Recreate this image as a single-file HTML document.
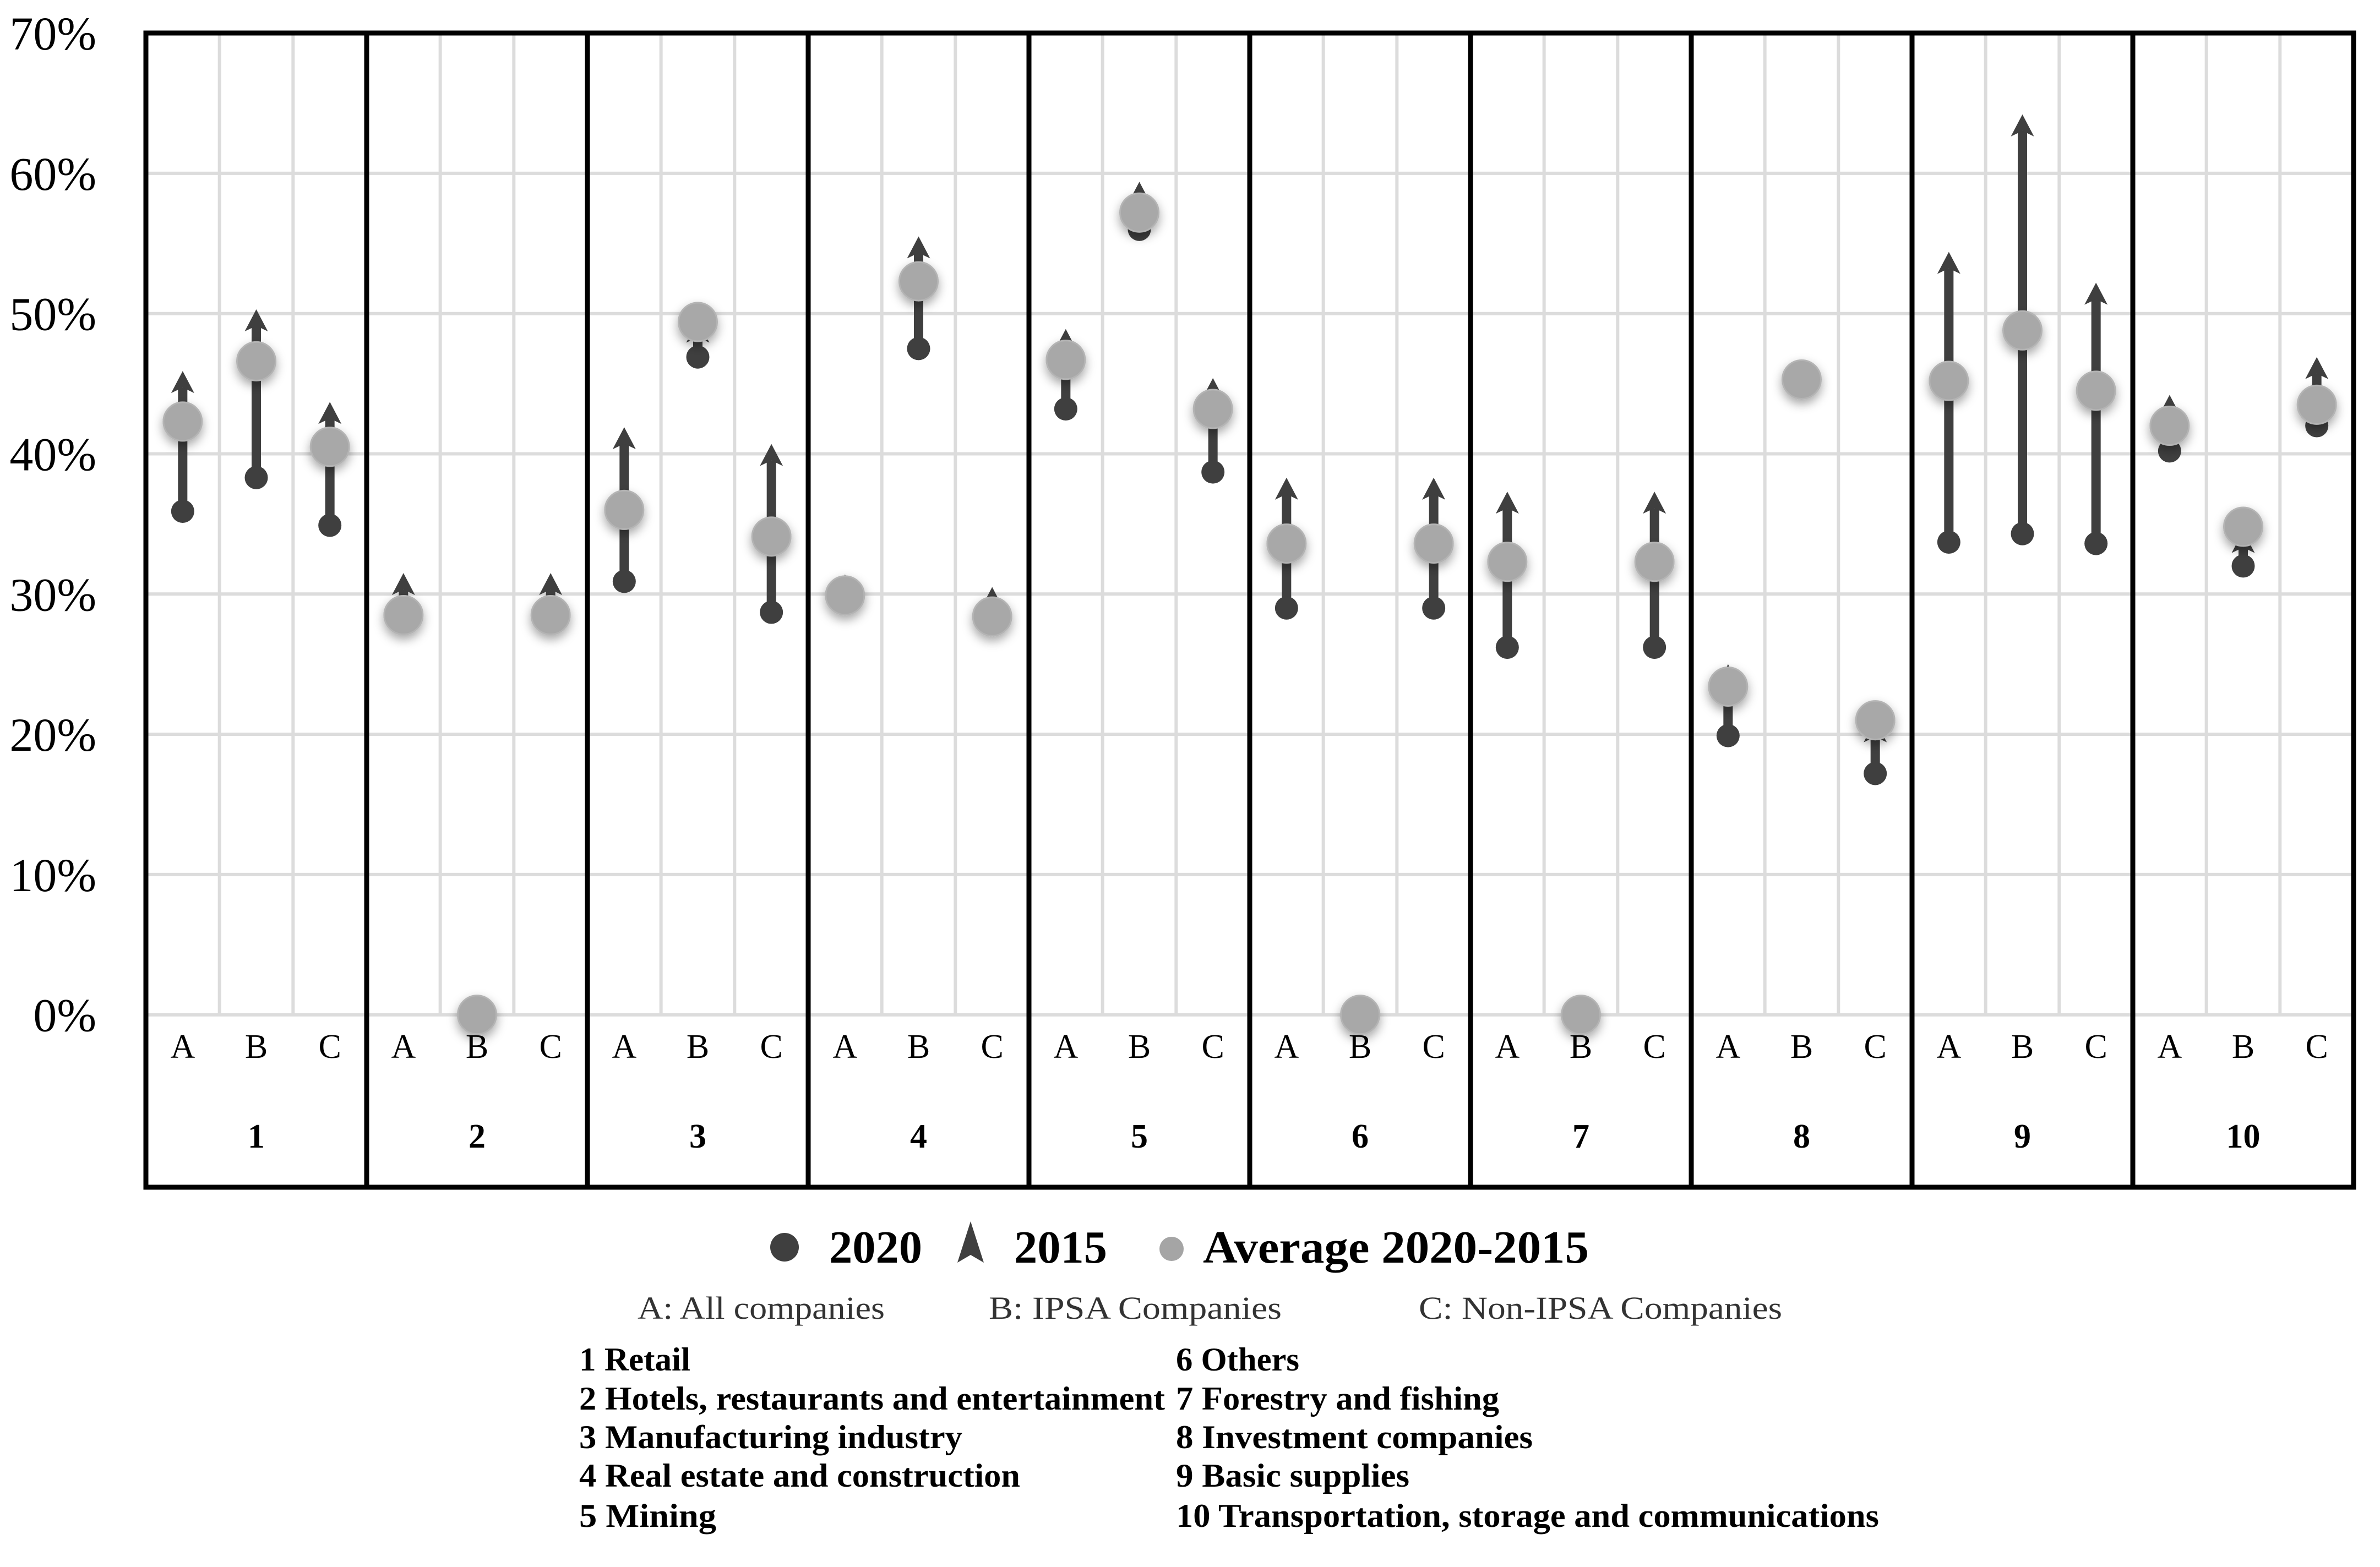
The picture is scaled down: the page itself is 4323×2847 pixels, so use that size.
<!DOCTYPE html>
<html><head><meta charset="utf-8"><style>
html,body{margin:0;padding:0;background:#fff}
svg{display:block}
text{font-family:"Liberation Serif",serif}
</style></head><body>
<svg id="chart" width="4323" height="2847" viewBox="0 0 4323 2847" xmlns="http://www.w3.org/2000/svg">
<defs>
<filter id="sh" x="-50%" y="-50%" width="200%" height="200%"><feDropShadow dx="0" dy="8" stdDeviation="9" flood-color="#000" flood-opacity="0.35"/></filter>
</defs>
<g id="grid"></g>
<g id="ylabels"></g>
<g id="marks"></g>
<g id="borders"></g>
<g id="xlabels"></g>
<g>
  <circle cx="1425" cy="2266" r="26" fill="#3f3f3f"/>
  <text x="1506" y="2294" font-size="84" font-weight="bold" textLength="169" lengthAdjust="spacingAndGlyphs">2020</text>
  <path d="M1763 2219 L1787 2294 L1763 2280 L1739 2294 Z" fill="#3f3f3f"/>
  <text x="1842" y="2294" font-size="84" font-weight="bold" textLength="169" lengthAdjust="spacingAndGlyphs">2015</text>
  <circle cx="2128" cy="2269" r="22" fill="#a5a5a5"/>
  <text x="2185" y="2294" font-size="84" font-weight="bold" textLength="701" lengthAdjust="spacingAndGlyphs">Average 2020-2015</text>
  <text x="1158" y="2396" font-size="58" fill="#333" textLength="449" lengthAdjust="spacingAndGlyphs">A: All companies</text>
  <text x="1796" y="2396" font-size="58" fill="#333" textLength="532" lengthAdjust="spacingAndGlyphs">B: IPSA Companies</text>
  <text x="2577" y="2396" font-size="58" fill="#333" textLength="660" lengthAdjust="spacingAndGlyphs">C: Non-IPSA Companies</text>
</g>
<g font-size="60" font-weight="bold">
  <text x="1052" y="2490" textLength="202" lengthAdjust="spacingAndGlyphs">1 Retail</text>
  <text x="1052" y="2561" textLength="1064" lengthAdjust="spacingAndGlyphs">2 Hotels, restaurants and entertainment</text>
  <text x="1052" y="2631" textLength="696" lengthAdjust="spacingAndGlyphs">3 Manufacturing industry</text>
  <text x="1052" y="2701" textLength="801" lengthAdjust="spacingAndGlyphs">4 Real estate and construction</text>
  <text x="1052" y="2774" textLength="249" lengthAdjust="spacingAndGlyphs">5 Mining</text>
  <text x="2136" y="2490" textLength="224" lengthAdjust="spacingAndGlyphs">6 Others</text>
  <text x="2136" y="2561" textLength="587" lengthAdjust="spacingAndGlyphs">7 Forestry and fishing</text>
  <text x="2136" y="2631" textLength="648" lengthAdjust="spacingAndGlyphs">8 Investment companies</text>
  <text x="2136" y="2701" textLength="424" lengthAdjust="spacingAndGlyphs">9 Basic supplies</text>
  <text x="2136" y="2774" textLength="1277" lengthAdjust="spacingAndGlyphs">10 Transportation, storage and communications</text>
</g>
</svg>
<script>
const groups = ["1","2","3","4","5","6","7","8","9","10"];
const subs = ["A","B","C"];
const yTicks = [0,10,20,30,40,50,60,70];
// values per group, order A,B,C (percent)
const v2020 = [35.9,38.3,34.9, 28,0,28, 30.9,46.9,28.7, 29.5,47.5,28, 43.2,56,38.7, 29.0,0,29.0, 26.2,0,26.2, 19.9,45,17.2, 33.7,34.3,33.6, 40.2,32.0,42.0];
const v2015 = [45.9,50.3,43.7, 31.5,0,31.5, 41.9,49.5,40.7, 31.4,55.5,30.5, 48.9,59.4,45.4, 38.3,0,38.3, 37.3,0,37.3, 25.0,46.6,21, 54.4,64.2,52.2, 44.2,34.5,46.9];
const vAvg = [42.3,46.6,40.5, 28.5,0,28.5, 36.0,49.4,34.1, 29.9,52.3,28.4, 46.7,57.2,43.2, 33.6,0,33.6, 32.3,0,32.3, 23.4,45.3,21.0, 45.2,48.8,44.5, 42.0,34.8,43.5];

const NS="http://www.w3.org/2000/svg";
const L=265, R=4275, TOP=60, BOT=2157;
const GW=(R-L)/groups.length, SW=GW/3;
const y0=1843.7, pp=25.48;
function yS(v){return y0-v*pp;}
function xS(g,k){return L+g*GW+(k+0.5)*SW;}
function mk(tag,attrs,parent){const e=document.createElementNS(NS,tag);for(const k in attrs)e.setAttribute(k,attrs[k]);parent.appendChild(e);return e;}
const grid=document.getElementById('grid'), yl=document.getElementById('ylabels'), marks=document.getElementById('marks'), bd=document.getElementById('borders'), xl=document.getElementById('xlabels');

yTicks.forEach(t=>{
  if(t<70){
    const ln=mk('line',{x1:L,x2:R,y1:yS(t),y2:yS(t),stroke:'#dcdcdc','stroke-width':6},grid);
    
    
  }
  const tx=mk('text',{x:175,y:yS(t)+30,'text-anchor':'end','font-size':86},yl);
  tx.textContent=t+'%';
  
  
});
groups.forEach((g,gi)=>{
  for(let k=1;k<3;k++){
    const x=L+gi*GW+k*SW;
    const ln=mk('line',{x1:x,x2:x,y1:TOP,y2:yS(0),stroke:'#dcdcdc','stroke-width':6},grid);
    
    
  }
  const r=mk('rect',{x:L+gi*GW,y:TOP,width:GW,height:BOT-TOP,fill:'none',stroke:'#000','stroke-width':9},bd);
  
  
  const gt=mk('text',{x:L+gi*GW+GW/2,y:2085,'text-anchor':'middle','font-size':62,'font-weight':'bold'},xl);
  gt.textContent=g;
  
  
  subs.forEach((s,k)=>{
    const st=mk('text',{x:xS(gi,k),y:1922,'text-anchor':'middle','font-size':62},xl);
    st.textContent=s;
    
    
  });
});
groups.forEach((g,gi)=>{
  subs.forEach((s,k)=>{
    const i=gi*3+k, x=xS(gi,k);
    const ya=yS(v2020[i]), yb=yS(v2015[i]), ym=yS(vAvg[i]);
    const grp=mk('g',{},marks);
    
    
    if(v2015[i]>v2020[i]){
      const stem=mk('line',{x1:x,x2:x,y1:ya,y2:yb+30,stroke:'#3f3f3f','stroke-width':17},grp);
      
      
      const ah=mk('path',{d:`M${x} ${yb} L${x+21} ${yb+40} L${x} ${yb+30} L${x-21} ${yb+40} Z`,fill:'#3f3f3f'},grp);
      
      
    }
    const d=mk('circle',{cx:x,cy:ya,r:21,fill:'#3f3f3f'},grp);
    
    
    const c=mk('circle',{cx:x,cy:ym,r:35,fill:'#a8a8a8',stroke:'#b4b4b4','stroke-width':3,filter:'url(#sh)'},grp);
    
    
  });
});
</script>
</body></html>
